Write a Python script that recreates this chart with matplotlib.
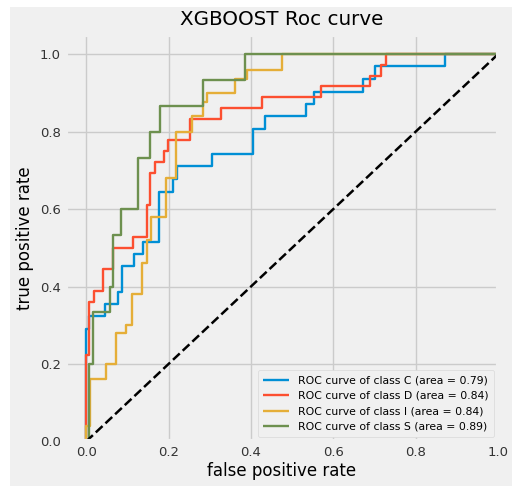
import matplotlib
matplotlib.use("Agg")
import matplotlib.pyplot as plt
from matplotlib.patches import Rectangle

plt.style.use("fivethirtyeight")

# ── ROC staircase corners (step where="post") ───────────────────────────────
FPR_C = [0, 0, 0.008, 0.046, 0.0785, 0.088, 0.115, 0.139, 0.178, 0.21, 0.22,
         0.306, 0.404, 0.4345, 0.533, 0.553, 0.673, 0.702, 0.872, 1.0]
TPR_C = [0, 0.290, 0.323, 0.355, 0.387, 0.452, 0.484, 0.516, 0.645, 0.677, 0.710,
         0.742, 0.806, 0.839, 0.871, 0.903, 0.935, 0.968, 1.0, 1.0]

FPR_D = [0, 0, 0.008, 0.018, 0.040, 0.066, 0.113, 0.147, 0.155, 0.166, 0.188,
         0.198, 0.251, 0.327, 0.4265, 0.571, 0.688, 0.716, 0.728, 1.0]
TPR_D = [0, 0.222, 0.361, 0.389, 0.444, 0.5, 0.528, 0.611, 0.694, 0.722, 0.75,
         0.778, 0.833, 0.861, 0.889, 0.917, 0.944, 0.972, 1.0, 1.0]

FPR_I = [0, 0, 0.01, 0.048, 0.072, 0.097, 0.111, 0.135, 0.147, 0.157, 0.194,
         0.219, 0.257, 0.283, 0.294, 0.362, 0.39, 0.475, 1.0]
TPR_I = [0, 0.04, 0.16, 0.2, 0.28, 0.30, 0.38, 0.46, 0.52, 0.58, 0.68,
         0.80, 0.84, 0.877, 0.90, 0.935, 0.96, 1.0, 1.0]

FPR_S = [0, 0.006, 0.016, 0.058, 0.066, 0.084, 0.127, 0.154, 0.18, 0.283, 0.386, 1.0]
TPR_S = [0, 0.2, 0.333, 0.4, 0.533, 0.6, 0.733, 0.8, 0.867, 0.933, 1.0, 1.0]

CLASSES = ["C", "D", "I", "S"]
AUCS = [0.79, 0.84, 0.84, 0.89]
CURVES = [(FPR_C, TPR_C), (FPR_D, TPR_D), (FPR_I, TPR_I), (FPR_S, TPR_S)]
COLORS = ["#008fd5", "#fc4f30", "#e5ae38", "#6d904f"]

fig = plt.figure(figsize=(5.12, 4.86), dpi=100, facecolor="white")
# grey panel (screenshot leaves a thin white strip on the left and top)
fig.patches.append(Rectangle((10 / 512, 0), 1, 1 - 7 / 486, transform=fig.transFigure,
                             facecolor="#f0f0f0", edgecolor="none", zorder=-10))
ax = fig.add_axes([0.128, 0.0916, 0.845, 0.837])

for cls, auc, (fpr, tpr), col in zip(CLASSES, AUCS, CURVES, COLORS):
    ax.step(fpr, tpr, where="post", color=col, linewidth=1.7,
            label=f"ROC curve of class {cls} (area = {auc:.2f})")

ax.plot([0, 1], [0, 1], "k--", linewidth=1.8)

ax.set_xlim(-0.05, 1.0)
ax.set_ylim(0.0, 1.05)
ax.set_xticks([0.0, 0.2, 0.4, 0.6, 0.8, 1.0])
ax.set_yticks([0.0, 0.2, 0.4, 0.6, 0.8, 1.0])
ax.tick_params(labelsize=9.5, colors="#333333")
ax.grid(color="#cbcbcb", linewidth=1.0)

ax.set_title("XGBOOST Roc curve", fontsize=14.3, pad=7)
ax.set_xlabel("false positive rate", fontsize=12, labelpad=2)
ax.set_ylabel("true positive rate", fontsize=12, labelpad=4)
ax.legend(loc="lower right", fontsize=7.8, frameon=True, framealpha=1.0,
          facecolor="#f0f0f0", edgecolor="#d8d8d8", handlelength=2.4,
          borderpad=0.5, borderaxespad=0.4)

fig.savefig("out.png", dpi=100, facecolor=fig.get_facecolor())
